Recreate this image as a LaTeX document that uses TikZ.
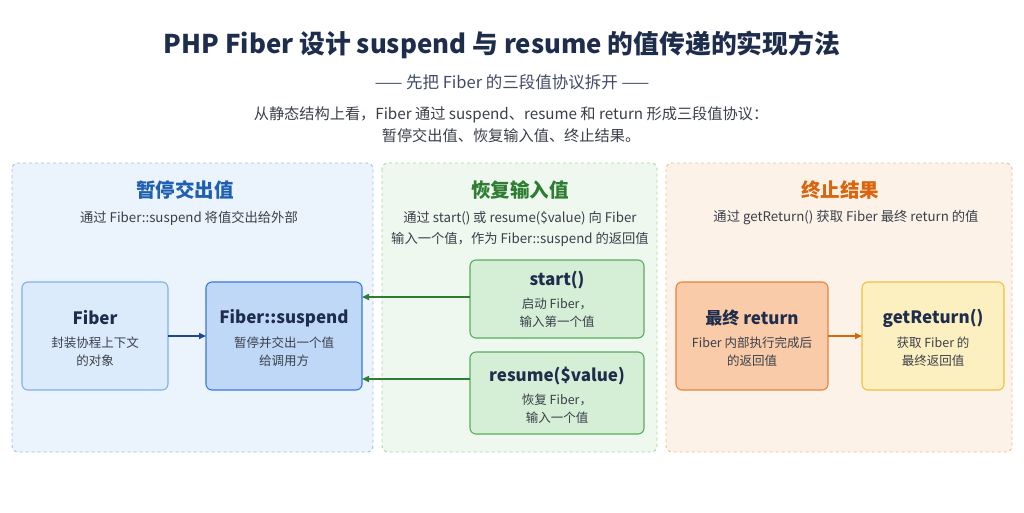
\documentclass[tikz,border=0pt]{standalone}
\usepackage{fontspec}
\setmainfont{Noto Sans CJK SC}
\usetikzlibrary{arrows.meta}
\definecolor{navy}{HTML}{1F2D4D}
\definecolor{txt}{HTML}{3A3F4A}
\definecolor{bpan}{HTML}{EBF3FC}\definecolor{bpanb}{HTML}{9DBFE8}
\definecolor{gpan}{HTML}{EEF8EE}\definecolor{gpanb}{HTML}{A3D6A5}
\definecolor{opan}{HTML}{FDF2E8}\definecolor{opanb}{HTML}{F2BB8E}
\definecolor{btit}{HTML}{1F5FB0}\definecolor{gtit}{HTML}{2E7D32}\definecolor{otit}{HTML}{D9650F}
\tikzset{
 panel/.style={draw=#1,dashed,line width=0.9pt,rounded corners=6pt},
 box/.style={rounded corners=6pt,line width=1.1pt},
 btitle/.style={font=\bfseries\fontsize{17}{20}\selectfont,text=navy},
 bbody/.style={font=\fontsize{12.5}{18}\selectfont,text=txt,align=center},
 ptitle/.style={font=\bfseries\fontsize{19.5}{22}\selectfont},
 psub/.style={font=\fontsize{13.3}{21}\selectfont,text=txt,align=center},
 arr/.style={-{Triangle[length=7pt,width=6pt]},line width=1.5pt}
}
\begin{document}
\begin{tikzpicture}[x=1pt,y=-1pt]
\useasboundingbox[fill=white] (0,0) rectangle (1024,512);
\node[font=\bfseries\fontsize{25.8}{30}\selectfont,text=navy] (t) at (502,45) {PHP Fiber 设计 suspend 与 resume 的值传递的实现方法};
\node[font=\fontsize{16.5}{20}\selectfont,text=navy!85] (st) at (512,82) {—— 先把 Fiber 的三段值协议拆开 ——};
\node[font=\fontsize{15.2}{22}\selectfont,text=txt,align=center] (d) at (511,125) {从静态结构上看，Fiber 通过 suspend、resume 和 return 形成三段值协议：\\暂停交出值、恢复输入值、终止结果。};
% panels
\draw[panel=bpanb,fill=bpan] (12,163) rectangle (373,452);
\draw[panel=gpanb,fill=gpan] (382,163) rectangle (657,452);
\draw[panel=opanb,fill=opan] (666,163) rectangle (1012,452);
\node[ptitle,text=btit] (p1) at (185,190) {暂停交出值};
\node[psub] (p1s) at (189,218) {通过 Fiber::suspend 将值交出给外部};
\node[ptitle,text=gtit] (p2) at (520,190) {恢复输入值};
\node[psub] (p2s) at (520,229) {通过 start() 或 resume(\$value) 向 Fiber\\输入一个值，作为 Fiber::suspend 的返回值};
\node[ptitle,text=otit] (p3) at (840,190) {终止结果};
\node[psub] (p3s) at (846,218) {通过 getReturn() 获取 Fiber 最终 return 的值};
% boxes
\draw[box,draw={rgb,255:red,127;green,176;blue,232},fill={rgb,255:red,220;green,235;blue,251}] (22,282) rectangle (168,390);
\node[btitle] (f1) at (95,318) {Fiber};
\node[bbody] (f2) at (95,352) {封装协程上下文\\的对象};
\draw[box,draw={rgb,255:red,59;green,120;blue,216},fill={rgb,255:red,192;green,216;blue,248}] (206,282) rectangle (362,390);
\node[btitle] (s1) at (284,318) {Fiber::suspend};
\node[bbody] (s2) at (284,352) {暂停并交出一个值\\给调用方};
\draw[box,draw={rgb,255:red,90;green,172;blue,95},fill={rgb,255:red,213;green,238;blue,214}] (470,260) rectangle (644,338);
\node[btitle] (a1) at (557,280) {start()};
\node[bbody] (a2) at (557,313) {启动 Fiber，\\输入第一个值};
\draw[box,draw={rgb,255:red,90;green,172;blue,95},fill={rgb,255:red,213;green,238;blue,214}] (470,352) rectangle (644,434);
\node[btitle] (r1) at (557,376) {resume(\$value)};
\node[bbody] (r2) at (557,409) {恢复 Fiber，\\输入一个值};
\draw[box,draw={rgb,255:red,232;green,130;blue,62},fill={rgb,255:red,249;green,203;blue,168}] (676,282) rectangle (828,390);
\node[btitle] (e1) at (752,318) {最终 return};
\node[bbody] (e2) at (752,352) {Fiber 内部执行完成后\\的返回值};
\draw[box,draw={rgb,255:red,240;green,192;blue,64},fill={rgb,255:red,253;green,240;blue,192}] (862,282) rectangle (1004,390);
\node[btitle] (g1) at (933,318) {getReturn()};
\node[bbody] (g2) at (933,352) {获取 Fiber 的\\最终返回值};
% arrows
\coordinate (fe) at (168,336); \coordinate (sw) at (206,336);
\coordinate (se1) at (362,297); \coordinate (aw) at (470,297);
\coordinate (se2) at (362,379); \coordinate (rw) at (470,379);
\coordinate (ee) at (828,336); \coordinate (gw) at (862,336);
\draw[arr,draw={rgb,255:red,30;green,70;blue,150}] (fe) -- (sw);
\draw[arr,draw={rgb,255:red,46;green,125;blue,50}] (aw) -- (se1);
\draw[arr,draw={rgb,255:red,46;green,125;blue,50}] (rw) -- (se2);
\draw[arr,draw={rgb,255:red,217;green,101;blue,15}] (ee) -- (gw);
\end{tikzpicture}
\end{document}
